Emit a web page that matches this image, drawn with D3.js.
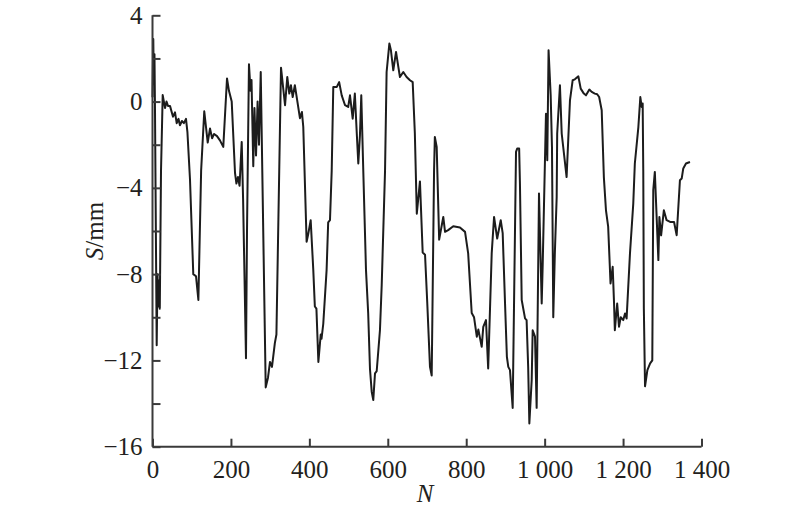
<!DOCTYPE html>
<html>
<head>
<meta charset="utf-8">
<script src="https://cdn.jsdelivr.net/npm/d3@7/dist/d3.min.js"></script>
<style>
html,body{margin:0;padding:0;background:#fff;}
svg{display:block;}
text{font-family:"Liberation Serif","Times New Roman",serif;fill:#231f20;}
</style>
</head>
<body>
<svg id="chart" width="800" height="513"></svg>
<script>
const nValues = [0,2,3.3,5,6.4,10.7,12.8,14.8,16.6,18.6,21.7,26,32,35.7,39.5,44.6,52.3,57.4,61.7,66.3,70,75,80,85.4,89,95.6,104,111,117,124,132,140.8,146.6,152,157,164.5,172,180.5,190,195,202,210.4,214,218,222,227.5,231,238.4,241,246,250,252.5,257,260,264,268,271.6,276,288.7,294.5,299.6,304.7,312,316,327.7,338,343.7,348.8,353,357.5,363,369,376,381,384.5,393,396.5,403.4,410,414,418,423,429,431,435.5,444,448,452.6,457,461,470,476,482.5,491,499,503.6,510.5,516,520.7,524.8,529,532.4,537.5,544.4,550,554.6,559,563,567.4,571.7,580,584.5,593,597,604,608,614,621,627,631,639.5,648,656.6,663.5,669,674,682,689,695,700.7,707.6,712,718,720,724.7,731,741.5,746,754,767,784,797,805,814,820,827,831,839.5,843.5,850.4,856,865,871,879,888,893,899,903.7,907.3,911.6,918.5,927,930,935,937,941.5,950,954,958,961,967,969.5,975.4,979.6,985.6,992.5,995,1003.4,1006.7,1010,1015.4,1018.7,1022,1026,1030.7,1032,1039,1043.5,1056,1064.6,1071.5,1077,1086,1092,1100,1105.4,1114,1120,1128,1134,1139,1145.5,1151,1156.4,1162,1168,1173.5,1177,1179,1185,1189.6,1194,1200.5,1205,1209,1217.6,1226,1230,1239,1244,1247.5,1250,1251.5,1253,1256,1262,1269,1274.5,1277,1281,1290,1292.6,1297,1304,1311,1320,1330,1336.7,1345,1349.5,1353.5,1360.4,1370.6];
const sValues = [0.2,2.9,0.8,2.2,-0.5,-11.3,-8.0,-9.5,-8.3,-9.6,-3.2,0.3,-0.3,0.0,-0.2,-0.2,-0.7,-0.5,-1.0,-0.8,-1.1,-0.9,-1.0,-0.8,-1.4,-3.6,-8.0,-8.1,-9.2,-3.2,-0.45,-1.9,-1.25,-1.7,-1.5,-1.6,-1.8,-2.1,1.07,0.5,0.0,-3.3,-3.8,-3.5,-3.9,-1.87,-4.5,-11.9,-6,1.73,0.5,1.0,-3.0,-0.3,-2.5,0.0,-2.0,1.37,-13.25,-12.8,-12.07,-12.3,-11.2,-10.8,1.57,-0.17,1.14,0.37,0.76,0.21,0.76,0.06,-0.77,-0.48,-1.18,-6.5,-6.2,-5.5,-7.8,-9.5,-9.6,-12.07,-10.8,-11.0,-10.3,-7.8,-5.6,-5.5,-3.2,0.68,0.68,0.9,0.29,-0.17,-0.25,0.29,-0.79,0.37,-1.4,-2.87,-1.56,0.29,-3.2,-7.8,-9.8,-12.4,-13.45,-13.84,-12.6,-12.5,-10.6,-8.5,-3.2,1.37,2.69,2.38,1.45,2.3,1.6,1.14,1.37,1.14,0.99,0.9,-1.47,-5.2,-3.7,-7.0,-7.1,-9.35,-12.3,-12.7,-3.2,-1.64,-2.1,-6.4,-5.35,-6.04,-5.96,-5.78,-5.84,-6.04,-7.04,-9.8,-10.0,-10.9,-10.57,-11.37,-10.44,-10.13,-12.37,-7.04,-5.35,-6.35,-5.5,-6.1,-9.36,-11.83,-12.3,-12.45,-14.2,-2.33,-2.18,-2.18,-3.8,-9.2,-10.05,-10.13,-12.3,-14.92,-12.9,-10.6,-10.9,-14.2,-4.26,-9.36,-7.6,-0.56,-2.72,2.38,0.29,-2.1,-10.0,-7.04,-4.42,-1.48,0.76,-1.48,-3.5,0.06,0.99,1.03,1.17,0.6,0.37,0.29,0.56,0.45,0.37,0.34,0.21,-0.4,-3.5,-5.04,-5.8,-8.43,-7.66,-9.36,-10.6,-9.36,-10.44,-10.0,-10.13,-9.82,-10.06,-7.04,-4.73,-2.87,-1.18,0.21,-0.25,-0.09,-3.2,-9.6,-13.2,-12.45,-12.14,-12.0,-4.1,-3.26,-7.35,-5.35,-6.2,-5.04,-5.5,-5.58,-5.58,-6.2,-3.65,-3.57,-3.1,-2.87,-2.8];
const xTicks = [0,200,400,600,800,1000,1200,1400];
const xTickLabels = ["0","200","400","600","800","1 000","1 200","1 400"];
const yTicks = [4,2,0,-2,-4,-6,-8,-10,-12,-14,-16];
const yTickLabels = {"4":"4","0":"0","-4":"\u22124","-8":"\u22128","-12":"\u221212","-16":"\u221216"};
const xTitle = "N";
const yTitle = "S";
const yUnit = "/mm";

const svg = d3.select("#chart");
const pLeft = 152.5, pRight = 701.5, pTop = 15.3, pBottom = 446.7;
const x = d3.scaleLinear().domain([0,1400]).range([pLeft,pRight]);
const y = d3.scaleLinear().domain([-16,4]).range([pBottom,pTop]);
const axisColor = "#3a3a3a";

const data = nValues.map((n,i)=>({n, s:sValues[i]}));
svg.append("path")
  .datum(data)
  .attr("fill","none")
  .attr("stroke","#1c1c1c")
  .attr("stroke-width",2)
  .attr("stroke-linejoin","round")
  .attr("d", d3.line().x(d=>x(d.n)).y(d=>y(d.s)));

const xAxis = d3.axisBottom(x).tickValues(xTicks).tickSize(-8).tickPadding(14)
  .tickFormat((d,i)=>xTickLabels[i]);
const gx = svg.append("g").attr("transform",`translate(0,${pBottom})`).call(xAxis);
gx.select(".domain").attr("stroke",axisColor).attr("stroke-width",2).attr("d",`M${pLeft},0H${pRight}`);
gx.selectAll(".tick line").attr("stroke",axisColor).attr("stroke-width",2);
gx.selectAll(".tick text").attr("font-size",25).attr("fill","#231f20")
  .attr("font-family","'Liberation Serif',serif").attr("dy","0.71em").attr("y",14);

const yAxis = d3.axisLeft(y).tickValues(yTicks).tickSize(-8).tickPadding(10)
  .tickFormat(d=>yTickLabels[String(d)]||"");
const gy = svg.append("g").attr("transform",`translate(${pLeft},0)`).call(yAxis);
gy.select(".domain").attr("stroke",axisColor).attr("stroke-width",2).attr("d",`M0,${pBottom}V${pTop}`);
gy.selectAll(".tick line").attr("stroke",axisColor).attr("stroke-width",2);
gy.selectAll(".tick text").attr("font-size",25).attr("fill","#231f20")
  .attr("font-family","'Liberation Serif',serif");

svg.append("text").attr("x",(pLeft+pRight)/2 - 2).attr("y",502)
  .attr("text-anchor","middle").attr("font-size",25).attr("font-style","italic").text(xTitle);
const yt = svg.append("text").attr("transform",`translate(103,${(pTop+pBottom)/2}) rotate(-90)`)
  .attr("text-anchor","middle").attr("font-size",25);
yt.append("tspan").attr("font-style","italic").text(yTitle);
yt.append("tspan").text(yUnit);
</script>
</body>
</html>
